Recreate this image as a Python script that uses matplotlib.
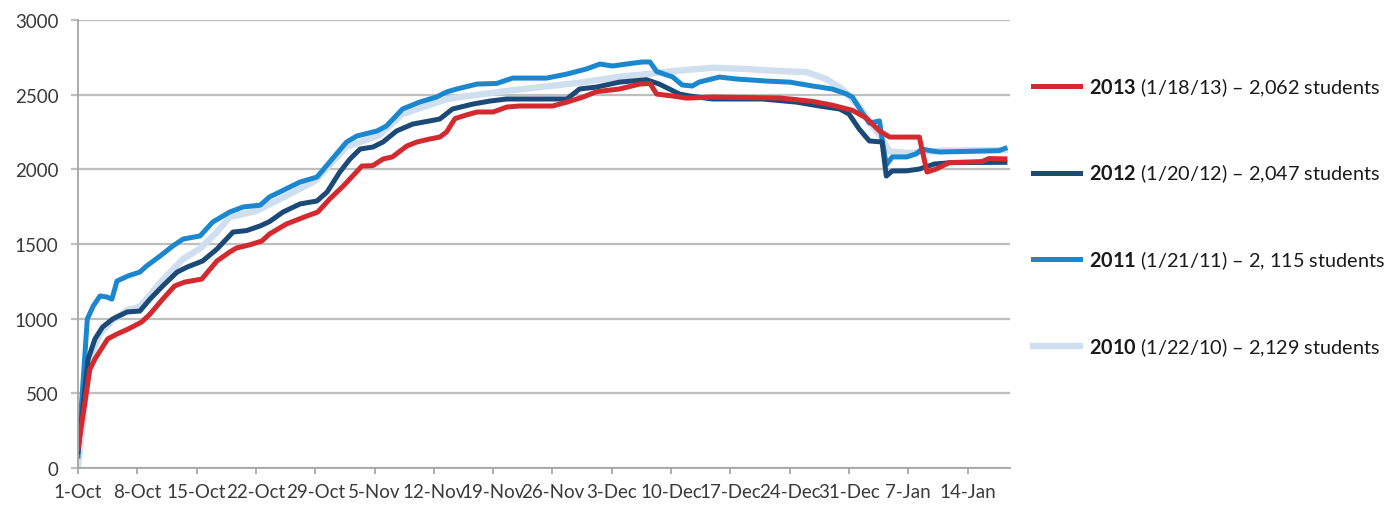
import matplotlib
matplotlib.use("Agg")
import matplotlib.pyplot as plt

plt.rcParams["font.family"] = ["Lato", "DejaVu Sans"]
plt.rcParams["mathtext.fontset"] = "custom"
plt.rcParams["mathtext.rm"] = "Lato"
plt.rcParams["mathtext.bf"] = "Lato:bold"

# days since 1-Oct, enrollment counts
days_2013 = [0, 1.4, 2.0, 3.5, 4.6, 5.9, 7.5, 8.5, 10.0, 11.4, 12.6, 14.6, 16.4, 17.9, 18.7, 20.3,
             21.7, 22.6, 24.6, 27.0, 28.3, 29.7, 31.3, 32.3, 33.5, 34.8, 36.0, 37.1, 38.8, 40.0,
             41.5, 42.7, 43.5, 44.5, 45.9, 47.1, 49.0, 50.6, 52.1, 56.0, 57.7, 59.6, 61.2, 63.9,
             66.3, 67.5, 68.3, 70.2, 71.8, 74.9, 82.8, 86.7, 89.0, 91.4, 93.0, 94.6, 95.8, 99.3,
             100.2, 101.3, 102.8, 106.7, 107.5, 109.4]
vals_2013 = [130, 660, 730, 864, 897, 930, 977, 1031, 1131, 1219, 1245, 1265, 1386, 1446, 1473, 1495,
             1520, 1567, 1634, 1687, 1714, 1801, 1888, 1948, 2022, 2025, 2069, 2083, 2156, 2183,
             2203, 2216, 2250, 2340, 2365, 2384, 2384, 2417, 2424, 2424, 2450, 2484, 2520, 2538,
             2571, 2575, 2504, 2491, 2477, 2484, 2478, 2455, 2430, 2395, 2345, 2257, 2216, 2216,
             1982, 2002, 2045, 2052, 2072, 2070]

days_2012 = [0, 1.2, 2.0, 2.9, 4.1, 5.8, 7.3, 8.5, 10.0, 11.7, 12.9, 14.7, 16.4, 18.3, 19.9, 21.5,
             22.6, 24.2, 26.2, 28.2, 29.4, 30.9, 32.1, 33.3, 34.8, 36.0, 37.6, 39.5, 41.5, 42.7,
             44.2, 46.6, 48.6, 50.6, 57.7, 59.2, 61.2, 63.9, 67.1, 68.6, 71.0, 72.2, 74.9, 80.8,
             84.8, 87.5, 89.9, 91.0, 92.2, 93.4, 94.9, 95.4, 96.1, 97.8, 99.3, 101.1, 103.2, 109.4]
vals_2012 = [110, 730, 864, 944, 998, 1045, 1051, 1131, 1219, 1312, 1346, 1386, 1466, 1580, 1590, 1621,
             1650, 1714, 1768, 1788, 1848, 1982, 2069, 2136, 2149, 2183, 2257, 2303, 2324, 2337,
             2404, 2437, 2457, 2471, 2471, 2538, 2551, 2584, 2600, 2571, 2504, 2491, 2471, 2471,
             2450, 2424, 2404, 2370, 2270, 2190, 2183, 1955, 1989, 1990, 2002, 2036, 2045, 2047]

days_2011 = [0, 1.1, 1.8, 2.6, 3.4, 4.0, 4.6, 5.9, 7.3, 8.1, 9.7, 11.2, 12.4, 14.4, 15.9, 17.9,
             19.5, 21.5, 22.6, 23.8, 26.2, 28.2, 29.7, 31.7, 32.9, 35.3, 36.4, 38.3, 40.3, 42.3,
             43.5, 44.7, 47.1, 49.4, 51.3, 55.3, 57.7, 60.0, 61.6, 63.1, 64.7, 66.6, 67.5, 68.3,
             70.2, 71.3, 72.5, 73.3, 75.7, 77.7, 81.3, 84.0, 86.7, 89.0, 90.7, 91.4, 92.5, 93.4,
             94.6, 94.9, 95.4, 96.1, 97.8, 98.9, 99.6, 100.8, 101.7, 108.7, 109.4]
vals_2011 = [80, 998, 1085, 1152, 1145, 1131, 1252, 1286, 1312, 1353, 1420, 1487, 1533, 1554, 1647, 1714,
             1748, 1760, 1815, 1848, 1915, 1948, 2049, 2183, 2223, 2257, 2290, 2404, 2450, 2484,
             2518, 2538, 2571, 2575, 2611, 2611, 2638, 2672, 2705, 2692, 2705, 2719, 2719, 2655,
             2618, 2565, 2558, 2584, 2618, 2605, 2591, 2584, 2558, 2538, 2505, 2484, 2384, 2310,
             2324, 2203, 2030, 2083, 2083, 2103, 2136, 2123, 2116, 2125, 2140]

days_2010 = [0, 0.6, 1.2, 2.6, 4.1, 5.9, 7.3, 10.0, 12.4, 14.4, 16.4, 17.9, 21.0, 23.8, 27.9, 31.7,
             35.6, 38.3, 43.5, 45.9, 51.3, 59.2, 63.9, 67.5, 70.2, 74.9, 78.8, 82.8, 86.0, 88.3,
             90.2, 91.0, 92.2, 93.4, 94.6, 95.8, 98.1, 101.7, 109.4]
vals_2010 = [20, 300, 700, 900, 990, 1060, 1080, 1260, 1400, 1470, 1580, 1680, 1720, 1800, 1920, 2150,
             2230, 2370, 2470, 2490, 2530, 2580, 2620, 2640, 2658, 2680, 2672, 2658, 2651, 2605,
             2538, 2491, 2420, 2320, 2230, 2120, 2110, 2125, 2129]

tick_days = [0, 7, 14, 21, 28, 35, 42, 49, 56, 63, 70, 77, 84, 91, 98, 105]
tick_labels = ["1-Oct", "8-Oct", "15-Oct", "22-Oct", "29-Oct", "5-Nov", "12-Nov", "19-Nov",
               "26-Nov", "3-Dec", "10-Dec", "17-Dec", "24-Dec", "31-Dec", "7-Jan", "14-Jan"]

labels = [r"$\bf{2013}$ (1/18/13) – 2,062 students",
          r"$\bf{2012}$ (1/20/12) – 2,047 students",
          r"$\bf{2011}$ (1/21/11) – 2, 115 students",
          r"$\bf{2010}$ (1/22/10) – 2,129 students"]

fig = plt.figure(figsize=(13.9, 5.06), dpi=100)
ax = fig.add_axes([78 / 1390, 37 / 506, 932 / 1390, 448 / 506])

l10, = ax.plot(days_2010, vals_2010, color="#cfdff0", lw=4.6, solid_joinstyle="round")
l11, = ax.plot(days_2011, vals_2011, color="#1b87cf", lw=3.6, solid_joinstyle="round")
l12, = ax.plot(days_2012, vals_2012, color="#1c4a78", lw=3.6, solid_joinstyle="round")
l13, = ax.plot(days_2013, vals_2013, color="#d42a2f", lw=3.6, solid_joinstyle="round")

ax.set_xlim(0, 110)
ax.set_ylim(0, 3000)
ax.set_yticks(range(0, 3001, 500))
ax.set_xticks(tick_days)
ax.set_xticklabels(tick_labels)
ax.yaxis.grid(True, color="#bfbfbf", lw=1.6)
ax.set_axisbelow(True)
for s in ["top", "right"]:
    ax.spines[s].set_visible(False)
for s in ["left", "bottom"]:
    ax.spines[s].set_color("#a6a6a6")
    ax.spines[s].set_linewidth(1.3)
ax.tick_params(axis="y", length=5, width=1.6, color="#bfbfbf", pad=9,
               labelsize=13.5, labelcolor="#3a3a3a")
ax.tick_params(axis="x", length=4, width=1.3, color="#a6a6a6", pad=7,
               labelsize=13.5, labelcolor="#3a3a3a")

leg = fig.legend([l13, l12, l11, l10], labels, loc="upper left",
                 bbox_to_anchor=(1033 / 1390, 1 - 76 / 506), frameon=False,
                 borderpad=0, borderaxespad=0, handlelength=2.35, handletextpad=0.45,
                 labelspacing=3.22, fontsize=14.3)
for t in leg.get_texts():
    t.set_color("#1a1a1a")

fig.savefig("out.png", dpi=100)
